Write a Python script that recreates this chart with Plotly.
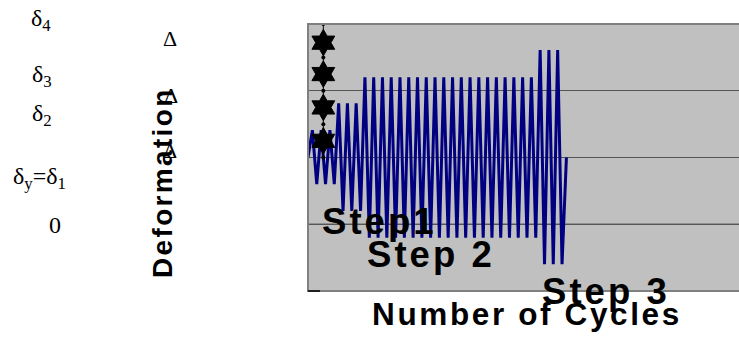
import plotly.graph_objects as go

# Loading history: half-cycle index and imposed deformation (units of delta_y)
half_cycles = list(range(60))
deformation = [
    0.0,
    0.41, -0.40, 0.41, -0.40, 0.41, -0.40,            # step 1, small cycles
    0.81, -0.80, 0.81, -0.80, 0.81, -0.80,            # step 1, larger cycles
    1.20, -1.20, 1.20, -1.20, 1.20, -1.20, 1.20, -1.20, 1.20, -1.20,
    1.20, -1.20, 1.20, -1.20, 1.20, -1.20, 1.20, -1.20, 1.20, -1.20,
    1.20, -1.20, 1.20, -1.20, 1.20, -1.20, 1.20, -1.20, 1.20, -1.20,
    1.20, -1.20, 1.20, -1.20, 1.20, -1.20, 1.20, -1.20, 1.20, -1.20,  # step 2
    1.61, -1.60, 1.61, -1.60, 1.61, -1.60,            # step 3
    0.0,
]
cycles = [h / 2 for h in half_cycles]

# Deformation levels marker column
level_x = [1.75, 1.75, 1.75, 1.75]
level_y = [0.25, 0.75, 1.25, 1.72]
guide_x = [1.75, 1.75, 1.75, 1.75, 1.75]
guide_y = [0.0, 0.5, 1.0, 1.5, 2.0]

y_ticks = [-1, 0, 1]
left_labels = ["δ<sub>4</sub>", "δ<sub>3</sub>", "δ<sub>2</sub>", "δ<sub>y</sub>=δ<sub>1</sub>", "0"]
delta_labels = ["Δ", "Δ", "Δ"]
step_labels = ["Step1", "Step 2", "Step 3"]

# plot-area geometry in pixels
FIG_W, FIG_H = 739, 338
L, T, B = 308, 24, 291
PW, PH = FIG_W - L, B - T
PX_PER_CYCLE = 8.76


def px(x):
    return (x - L) / PW


def py(y):
    return (B - y) / PH


def spaced(s, sep="\u200a"):
    return sep.join(s)


fig = go.Figure()
fig.add_trace(go.Scatter(
    x=cycles, y=deformation, mode="lines",
    line=dict(color="#000080", width=3), hoverinfo="skip",
))
fig.add_trace(go.Scatter(
    x=guide_x, y=guide_y, mode="lines+markers",
    line=dict(color="black", width=1),
    marker=dict(color="black", size=4), hoverinfo="skip",
))
fig.add_trace(go.Scatter(
    x=level_x, y=level_y, mode="markers",
    marker=dict(symbol="hexagram", color="black", size=20,
                line=dict(color="black", width=1)),
    hoverinfo="skip",
))

serif = dict(family="Liberation Serif, Times New Roman, serif", color="black")
sans = dict(family="Liberation Sans, Arial, sans-serif", color="black", weight="bold")

annotations = []
left_pos = [(41, 19.5), (42, 75.5), (42, 114.5), (39, 177.5), (55, 224.5)]
for text, (x, y) in zip(left_labels, left_pos):
    annotations.append(dict(text=text, x=px(x), y=py(y), xref="paper", yref="paper",
                            xanchor="center", yanchor="middle", showarrow=False,
                            font=dict(size=24, **serif)))
delta_pos = [(170, 38), (171, 95), (170, 150)]
for text, (x, y) in zip(delta_labels, delta_pos):
    annotations.append(dict(text=text, x=px(x), y=py(y), xref="paper", yref="paper",
                            xanchor="center", yanchor="middle", showarrow=False,
                            font=dict(size=22, **serif)))
annotations.append(dict(text=spaced("Deformation"), x=px(162), y=py(184),
                        xref="paper", yref="paper", textangle=-90,
                        xanchor="center", yanchor="middle", showarrow=False,
                        font=dict(size=28, **sans)))
step_pos = [(378, 221), (429.5, 254.5), (604, 291)]
for text, (x, y) in zip(step_labels, step_pos):
    annotations.append(dict(text=spaced(text), x=px(x), y=py(y), xref="paper", yref="paper",
                            xanchor="center", yanchor="middle", showarrow=False,
                            font=dict(size=36.5, **sans)))
annotations.append(dict(text=spaced("Number of Cycles"), x=px(525.5), y=py(314),
                        xref="paper", yref="paper",
                        xanchor="center", yanchor="middle", showarrow=False,
                        font=dict(size=31.5, **sans)))

shapes = [
    # lowest gridline is drawn darker than the others
    dict(type="line", xref="paper", yref="y", x0=0, x1=1, y0=y_ticks[0], y1=y_ticks[0],
         line=dict(color="black", width=1), layer="below"),
    dict(type="rect", xref="paper", yref="paper", x0=0, x1=1.2, y0=0, y1=1,
         line=dict(color="#808080", width=2), layer="above"),
    dict(type="line", xref="paper", yref="paper", x0=0, x1=12 / PW, y0=0, y1=0,
         line=dict(color="black", width=1.5), layer="above"),
]

fig.update_layout(
    width=FIG_W, height=FIG_H,
    margin=dict(l=L, r=0, t=T, b=FIG_H - B, pad=0),
    paper_bgcolor="white", plot_bgcolor="#C0C0C0",
    showlegend=False,
    xaxis=dict(range=[0, PW / PX_PER_CYCLE], showgrid=False, zeroline=False,
               showticklabels=False, ticks="", showline=False),
    yaxis=dict(range=[-2, 2], tickvals=y_ticks, showgrid=True, gridcolor="#555555",
               gridwidth=1, zeroline=False, showticklabels=False, ticks="",
               showline=False),
    annotations=annotations,
    shapes=shapes,
)

fig.write_html("out.html")
